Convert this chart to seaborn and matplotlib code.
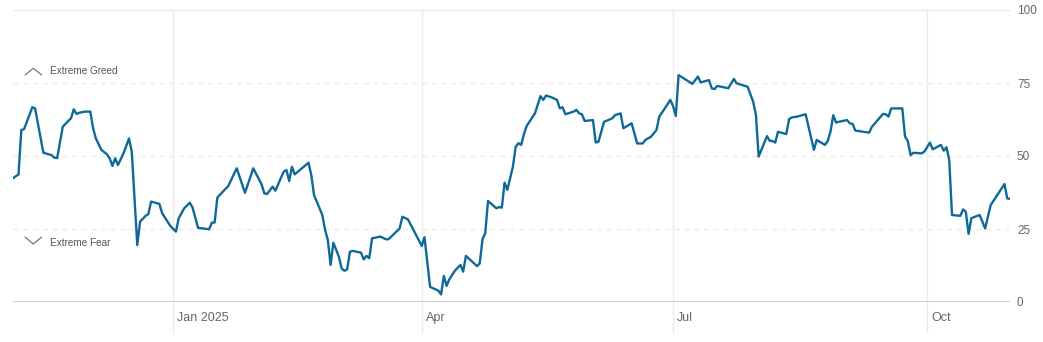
import matplotlib
matplotlib.use("Agg")
import matplotlib.pyplot as plt
import matplotlib.dates as mdates
from matplotlib.lines import Line2D
import seaborn as sns
import pandas as pd

dates = [
    "2024-11-04", "2024-11-06", "2024-11-07", "2024-11-08", "2024-11-11", "2024-11-12", "2024-11-15",
    "2024-11-18", "2024-11-19", "2024-11-20", "2024-11-22", "2024-11-24", "2024-11-25", "2024-11-26",
    "2024-11-27", "2024-11-28", "2024-11-30", "2024-12-02", "2024-12-03", "2024-12-04", "2024-12-06",
    "2024-12-08", "2024-12-09", "2024-12-10", "2024-12-11", "2024-12-12", "2024-12-14", "2024-12-16",
    "2024-12-17", "2024-12-19", "2024-12-20", "2024-12-22", "2024-12-23", "2024-12-24", "2024-12-27",
    "2024-12-28", "2024-12-31", "2025-01-02", "2025-01-03", "2025-01-05", "2025-01-07", "2025-01-08",
    "2025-01-10", "2025-01-14", "2025-01-15", "2025-01-16", "2025-01-17", "2025-01-21", "2025-01-24",
    "2025-01-27", "2025-01-30", "2025-02-02", "2025-02-03", "2025-02-04", "2025-02-06", "2025-02-07",
    "2025-02-10", "2025-02-11", "2025-02-12", "2025-02-13", "2025-02-14", "2025-02-19", "2025-02-20",
    "2025-02-21", "2025-02-24", "2025-02-25", "2025-02-26", "2025-02-27", "2025-02-28", "2025-03-02",
    "2025-03-03", "2025-03-04", "2025-03-05", "2025-03-06", "2025-03-07", "2025-03-10", "2025-03-11",
    "2025-03-12", "2025-03-13", "2025-03-14", "2025-03-17", "2025-03-19", "2025-03-20", "2025-03-24",
    "2025-03-25", "2025-03-27", "2025-04-01", "2025-04-02", "2025-04-04", "2025-04-07", "2025-04-08",
    "2025-04-09", "2025-04-10", "2025-04-11", "2025-04-13", "2025-04-15", "2025-04-16", "2025-04-17",
    "2025-04-21", "2025-04-22", "2025-04-23", "2025-04-24", "2025-04-25", "2025-04-28", "2025-04-29",
    "2025-04-30", "2025-05-01", "2025-05-02", "2025-05-04", "2025-05-05", "2025-05-06", "2025-05-07",
    "2025-05-08", "2025-05-09", "2025-05-12", "2025-05-14", "2025-05-15", "2025-05-16", "2025-05-18",
    "2025-05-20", "2025-05-21", "2025-05-22", "2025-05-23", "2025-05-26", "2025-05-27", "2025-05-28",
    "2025-05-29", "2025-05-30", "2025-06-02", "2025-06-03", "2025-06-04", "2025-06-06", "2025-06-09",
    "2025-06-10", "2025-06-12", "2025-06-13", "2025-06-15", "2025-06-16", "2025-06-18", "2025-06-20",
    "2025-06-21", "2025-06-23", "2025-06-25", "2025-06-26", "2025-06-28", "2025-06-30", "2025-07-01",
    "2025-07-02", "2025-07-03", "2025-07-08", "2025-07-10", "2025-07-11", "2025-07-14", "2025-07-15",
    "2025-07-16", "2025-07-17", "2025-07-21", "2025-07-23", "2025-07-24", "2025-07-26", "2025-07-28",
    "2025-07-30", "2025-07-31", "2025-08-01", "2025-08-04", "2025-08-05", "2025-08-06", "2025-08-07",
    "2025-08-08", "2025-08-11", "2025-08-12", "2025-08-13", "2025-08-15", "2025-08-18", "2025-08-21",
    "2025-08-22", "2025-08-25", "2025-08-26", "2025-08-27", "2025-08-28", "2025-08-29", "2025-09-02",
    "2025-09-03", "2025-09-04", "2025-09-05", "2025-09-10", "2025-09-11", "2025-09-15", "2025-09-16",
    "2025-09-17", "2025-09-18", "2025-09-22", "2025-09-23", "2025-09-24", "2025-09-25", "2025-09-26",
    "2025-09-29", "2025-09-30", "2025-10-02", "2025-10-03", "2025-10-06", "2025-10-07", "2025-10-08",
    "2025-10-09", "2025-10-10", "2025-10-13", "2025-10-14", "2025-10-15", "2025-10-16", "2025-10-17",
    "2025-10-20", "2025-10-22", "2025-10-24", "2025-10-29", "2025-10-30", "2025-10-31",
]

values = [
    42.4, 43.7, 58.9, 59.2, 66.7, 66.3, 51.1,
    50.3, 49.4, 49.3, 60.0, 62.0, 62.9, 66.0,
    64.4, 64.8, 65.2, 65.2, 59.5, 56.0, 52.1,
    50.6, 49.2, 46.6, 49.2, 46.9, 50.9, 56.0,
    51.5, 19.5, 27.5, 29.5, 30.1, 34.4, 33.6,
    30.4, 26.0, 24.1, 28.7, 32.1, 34.0, 32.4,
    25.4, 24.9, 27.2, 27.2, 35.8, 39.8, 45.8,
    37.4, 45.8, 40.3, 37.2, 37.0, 39.5, 38.1,
    44.6, 45.2, 41.4, 46.3, 43.7, 47.7, 43.5,
    36.6, 29.8, 24.7, 21.2, 12.7, 20.3, 15.5,
    11.5, 10.7, 11.2, 17.2, 17.5, 16.9, 14.6,
    15.8, 15.0, 21.8, 22.4, 21.5, 21.5, 25.2,
    29.2, 28.3, 19.2, 22.2, 5.2, 3.9, 2.6,
    8.9, 5.5, 7.8, 10.7, 12.7, 10.4, 15.8,
    12.3, 13.2, 21.5, 23.6, 34.6, 32.1, 32.5,
    32.3, 40.9, 38.4, 46.3, 53.1, 54.4, 53.8,
    57.5, 60.3, 64.6, 70.5, 69.2, 70.7, 70.1,
    69.2, 66.3, 66.7, 64.3, 65.2, 65.8, 64.6,
    64.3, 62.0, 62.3, 54.6, 54.9, 61.7, 62.9,
    64.0, 64.6, 59.5, 60.6, 61.2, 54.3, 54.3,
    55.5, 56.6, 58.9, 63.5, 66.3, 69.2, 67.1,
    63.7, 77.7, 74.7, 77.2, 75.2, 76.0, 73.2,
    72.9, 74.0, 73.2, 76.4, 74.9, 74.3, 73.7,
    68.6, 64.0, 49.8, 56.8, 55.2, 55.1, 54.6,
    58.3, 57.5, 62.6, 63.2, 63.5, 64.3, 52.1,
    55.5, 53.8, 55.2, 58.3, 64.0, 61.5, 62.3,
    61.2, 61.0, 58.7, 58.0, 60.0, 64.4, 64.3,
    63.5, 66.3, 66.3, 56.6, 55.1, 50.3, 51.1,
    50.9, 51.5, 54.6, 52.3, 53.8, 51.8, 53.0,
    48.6, 29.8, 29.5, 31.7, 30.9, 23.3, 28.7,
    29.8, 25.2, 33.2, 40.4, 35.5, 35.3,
]

month_ticks = ["2025-01-01", "2025-04-01", "2025-07-01", "2025-10-01"]
month_labels = ["Jan 2025", "Apr", "Jul", "Oct"]
y_ticks = [0, 25, 50, 75, 100]
zone_labels = ["Extreme Greed", "Extreme Fear"]

df = pd.DataFrame({"date": pd.to_datetime(dates), "value": values})

sns.set_theme(style="white")
plt.rcParams["font.family"] = ["Liberation Sans", "DejaVu Sans"]

W, H = 1043, 342
fig = plt.figure(figsize=(W / 100, H / 100), dpi=100)
ax = fig.add_axes([13 / W, 40 / H, (1010 - 13) / W, 292 / H])

# horizontal reference lines
ax.axhline(100, color="#e8e8e8", lw=1.0, zorder=1)
for v in (25, 50, 75):
    ax.axhline(v, color="#ebebeb", lw=1.0, ls=(0, (4, 3)), zorder=1)
ax.axhline(0, color="#d0d0d0", lw=1.6, zorder=1)

# vertical month gridlines extending below the axis
for d, lab in zip(month_ticks, month_labels):
    xd = mdates.date2num(pd.Timestamp(d))
    ax.axvline(xd, ymin=-0.105, ymax=1.0, color="#ebebeb", lw=1.0, zorder=0, clip_on=False)
    ax.annotate(lab, xy=(xd, -0.055), xycoords=ax.get_xaxis_transform(),
                xytext=(3, 0), textcoords="offset points",
                ha="left", va="center", fontsize=9, color="#666666")

sns.lineplot(data=df, x="date", y="value", ax=ax, color="#0d6a98", lw=1.7, zorder=3)

ax.set_xlim(pd.Timestamp("2024-11-04"), pd.Timestamp("2025-10-31"))
ax.set_ylim(0, 100)
ax.set_xticks([])
ax.yaxis.tick_right()
ax.set_yticks(y_ticks)
ax.set_yticklabels([str(t) for t in y_ticks])
ax.tick_params(axis="y", length=0, pad=5, labelsize=8.5, labelcolor="#666666")
ax.set_xlabel("")
ax.set_ylabel("")
for s in ax.spines.values():
    s.set_visible(False)
ax.set_facecolor("white")

# zone labels with chevrons (decorations, in figure pixel space)
def fig_xy(px, py):
    return px / W, 1 - py / H

gx = [fig_xy(25, 75), fig_xy(33.3, 68.3), fig_xy(41.7, 75)]
fig.add_artist(Line2D([p[0] for p in gx], [p[1] for p in gx], color="#777777", lw=0.9))
fx = [fig_xy(25, 237), fig_xy(33.3, 244), fig_xy(41.7, 237)]
fig.add_artist(Line2D([p[0] for p in fx], [p[1] for p in fx], color="#777777", lw=0.9))
fig.text(50 / W, 1 - 71.5 / H, zone_labels[0], ha="left", va="center", fontsize=7.2, color="#555555")
fig.text(50 / W, 1 - 242.5 / H, zone_labels[1], ha="left", va="center", fontsize=7.2, color="#555555")

fig.savefig("out.png", dpi=100, facecolor="white")
